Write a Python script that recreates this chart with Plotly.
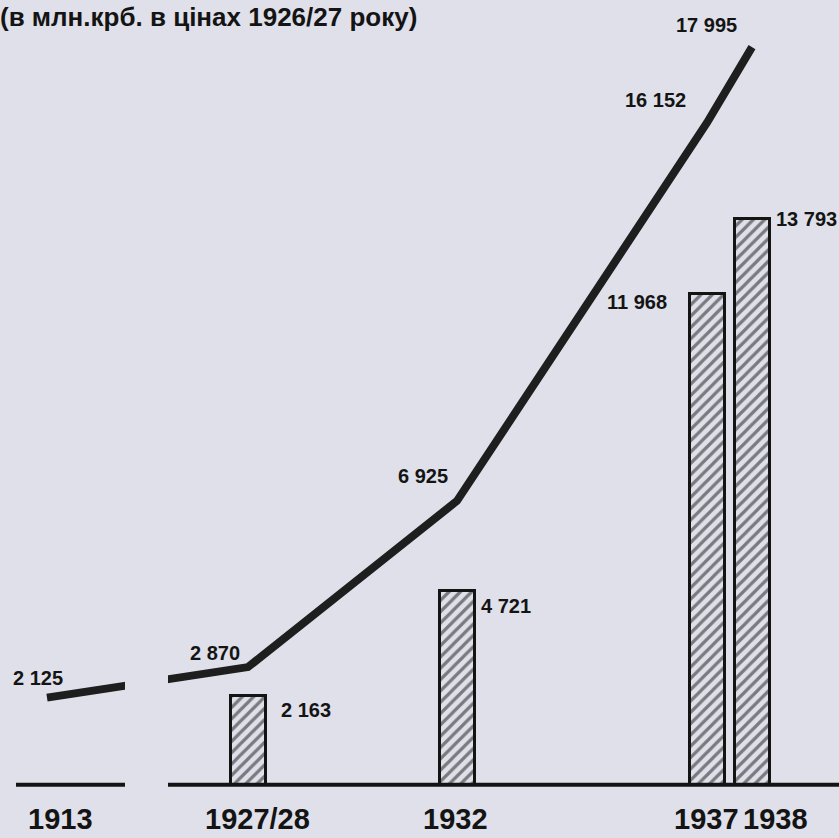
import plotly.graph_objects as go

# ---- data ----
categories = ["1913", "1927/28", "1932", "1937", "1938"]
# positions along the (broken) horizontal axis, in years after the break
x_pos = [1923.8, 1927.82, 1932.0, 1937.0, 1937.9]
line_values = [2125, 2870, 6925, 16152, 17995]
bar_categories = ["1927/28", "1932", "1937", "1938"]
bar_values = [2163, 4721, 11968, 13793]
title_text = "(в млн.крб. в цінах 1926/27 року)"

BG = "#dfe0e9"
INK = "#141414"
pos = dict(zip(categories, x_pos))
bar_x = [pos[c] for c in bar_categories]

def fmt(v):
    return f"{v:,}".replace(",", " ")

fig = go.Figure()
fig.add_trace(go.Bar(
    x=bar_x, y=bar_values, width=0.7,
    marker=dict(color=BG, line=dict(color=INK, width=3),
                pattern=dict(shape="/", fgcolor=INK, bgcolor=BG, size=8, solidity=0.4)),
    hoverinfo="skip", showlegend=False,
))
fig.add_trace(go.Scatter(
    x=x_pos, y=line_values, mode="lines",
    line=dict(color="#1e1e1e", width=8),
    hoverinfo="skip", showlegend=False,
))

X_MIN, X_MAX = 1922.86, 1939.64
BREAK0, BREAK1 = 1925.36, 1926.22
shapes = [
    # gap in the curve at the axis break
    dict(type="rect", xref="x", yref="y", x0=BREAK0, x1=BREAK1, y0=1200, y1=3800,
         fillcolor=BG, line=dict(width=0), layer="above"),
    # baseline in two pieces
    dict(type="line", xref="x", yref="y", x0=1923.18, x1=BREAK0, y0=0, y1=0,
         line=dict(color=INK, width=4), layer="above"),
    dict(type="line", xref="x", yref="y", x0=BREAK1, x1=X_MAX, y0=0, y1=0,
         line=dict(color=INK, width=4), layer="above"),
]

num_font = dict(family="Liberation Sans, Arial, sans-serif", size=20, color=INK)
ann = []
# line labels (xshift, yshift)
line_off = [(-9, 20), (-33, 14), (-34, 25), (-52, 23), (-46, 22)]
for x, v, (dx, dy) in zip(x_pos, line_values, line_off):
    ann.append(dict(x=x, y=v, xref="x", yref="y", text=f"<b>{fmt(v)}</b>", showarrow=False,
                    xanchor="center", yanchor="middle", xshift=dx, yshift=dy, font=num_font))
# bar labels
bar_off = [(31, -14, "left"), (22, -15, "left"), (-38, -8, "right"), (22, 0, "left")]
for x, v, (dx, dy, xa) in zip(bar_x, bar_values, bar_off):
    ann.append(dict(x=x, y=v, xref="x", yref="y", text=f"<b>{fmt(v)}</b>", showarrow=False,
                    xanchor=xa, yanchor="middle", xshift=dx, yshift=dy, font=num_font))
# category labels
cat_off = [13, 9, -2, -1, 23]
for c, x, dx in zip(categories, x_pos, cat_off):
    ann.append(dict(x=x, y=0, xref="x", yref="y", text=f"<b>{c}</b>", showarrow=False,
                    xanchor="center", yanchor="middle", xshift=dx, yshift=-34,
                    font=dict(family="Liberation Sans, Arial, sans-serif", size=29, color=INK)))
# title
ann.append(dict(x=0, y=1, xref="paper", yref="paper", text=f"<b>{title_text}</b>",
                showarrow=False, xanchor="left", yanchor="top", xshift=-2, yshift=0,
                font=dict(family="Liberation Sans, Arial, sans-serif", size=26, color=INK)))

fig.update_layout(
    width=839, height=838,
    margin=dict(l=0, r=0, t=0, b=41),
    paper_bgcolor=BG, plot_bgcolor=BG,
    xaxis=dict(range=[X_MIN, X_MAX], visible=False, fixedrange=True),
    yaxis=dict(range=[-300, 19146], visible=False, fixedrange=True),
    shapes=shapes, annotations=ann, bargap=0,
)
fig.write_html(
    "out.html",
    config={"displayModeBar": False},
    post_script="document.body.style.margin='0';document.body.style.background='%s';"
                "document.body.style.overflow='hidden';" % BG,
)
